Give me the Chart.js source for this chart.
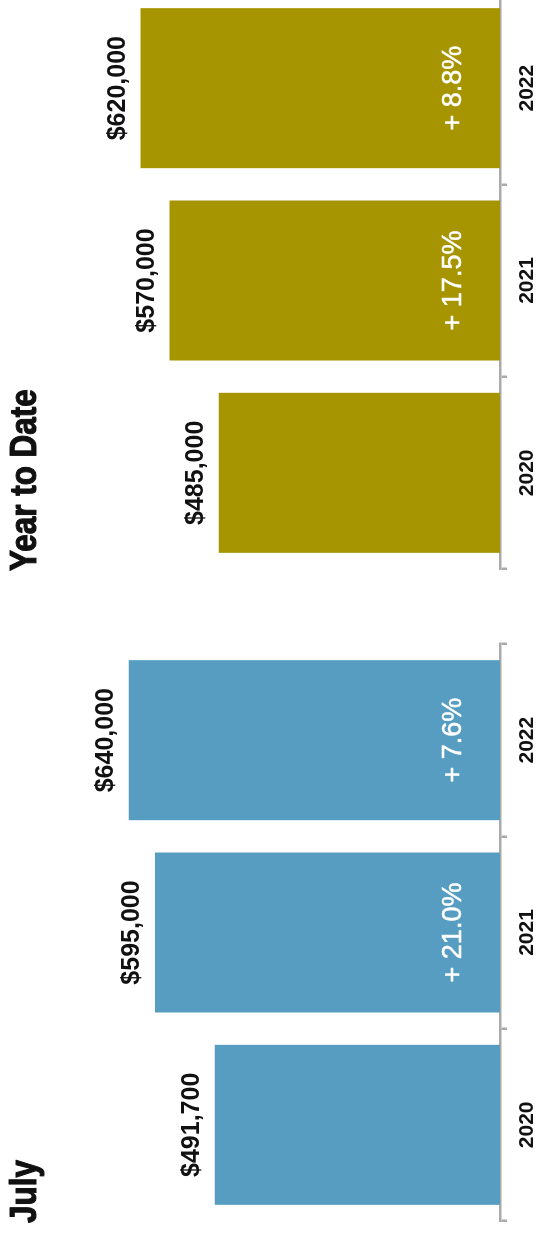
<!DOCTYPE html>
<html>
<head>
<meta charset="utf-8">
<script src="https://cdn.jsdelivr.net/npm/chart.js@4"></script>
<style>
  html, body { margin: 0; padding: 0; background: #fff; overflow: hidden; width: 539px; height: 1241px; }
  #stage {
    position: absolute; left: 0; top: 0;
    width: 1290px; height: 539px;
    transform-origin: 0 0;
    transform: translate(0, 1241px) rotate(-90deg);
  }
  #stage canvas { position: absolute; top: 0; }
  #july { left: 0; }
  #ytd { left: 652px; }
</style>
</head>
<body>
<div id="stage">
  <canvas id="july" width="620" height="539"></canvas>
  <canvas id="ytd" width="620" height="539"></canvas>
</div>
<script>
const years = ["2020", "2021", "2022"];
const julyPrices = [491700, 595000, 640000];
const julyChange = [null, 21.0, 7.6];
const ytdPrices = [485000, 570000, 620000];
const ytdChange = [null, 17.5, 8.8];

const axisGray = "#aaaaaa";
const sans = '"Liberation Sans", Arial, Helvetica, sans-serif';
Chart.defaults.font.family = sans;
Chart.defaults.color = "#111";

// condensed bold heading, value above each bar, yearly change inside the bar
const barLabels = {
  id: "barLabels",
  afterDatasetsDraw(chart, args, opts) {
    const ctx = chart.ctx;
    const area = chart.chartArea;
    const meta = chart.getDatasetMeta(0);
    const values = chart.data.datasets[0].data;
    ctx.save();

    ctx.save();
    ctx.fillStyle = "#111";
    ctx.strokeStyle = "#111";
    ctx.lineWidth = 1.2;
    ctx.lineJoin = "round";
    ctx.font = "bold 37px " + sans;
    ctx.textAlign = "left";
    ctx.textBaseline = "alphabetic";
    ctx.translate(area.left - 2, 36);
    ctx.scale(0.85, 1);
    ctx.fillText(opts.title, 0, 0);
    ctx.strokeText(opts.title, 0, 0);
    ctx.restore();

    ctx.textAlign = "center";
    ctx.textBaseline = "alphabetic";
    meta.data.forEach((bar, i) => {
      ctx.fillStyle = "#111";
      ctx.font = "bold 25px " + sans;
      ctx.fillText("$" + values[i].toLocaleString("en-US"), bar.x, bar.y - 15.5);
      const c = opts.change[i];
      if (c != null) {
        ctx.fillStyle = "#fff";
        ctx.strokeStyle = "#fff";
        ctx.lineWidth = 0.5;
        ctx.font = "27px " + sans;
        const txt = "+ " + c.toFixed(1) + "%";
        ctx.fillText(txt, bar.x, area.bottom - 39);
        ctx.strokeText(txt, bar.x, area.bottom - 39);
      }
    });
    ctx.restore();
  }
};

function makeChart(id, title, prices, change, color) {
  return new Chart(document.getElementById(id), {
    type: "bar",
    data: {
      labels: years,
      datasets: [{
        data: prices,
        backgroundColor: color,
        borderWidth: 0,
        barPercentage: 0.832,
        categoryPercentage: 1.0
      }]
    },
    options: {
      responsive: false,
      animation: false,
      layout: { padding: { left: 20, right: 23, top: 94, bottom: 0 } },
      plugins: {
        legend: { display: false },
        tooltip: { enabled: false },
        title: { display: false },
        barLabels: { title, change }
      },
      scales: {
        x: {
          grid: { display: true, drawOnChartArea: false, tickLength: 7, color: axisGray, lineWidth: 2.5 },
          border: { display: true, color: axisGray, width: 2.5 },
          ticks: { color: "#111", padding: 8, font: { size: 21, weight: "bold" } },
          afterFit(scale) { scale.height = 39; }
        },
        y: { display: false, min: 0, max: 700000 }
      }
    },
    plugins: [barLabels]
  });
}

makeChart("july", "July", julyPrices, julyChange, "#579dc1");
makeChart("ytd", "Year to Date", ytdPrices, ytdChange, "#a69500");
</script>
</body>
</html>
